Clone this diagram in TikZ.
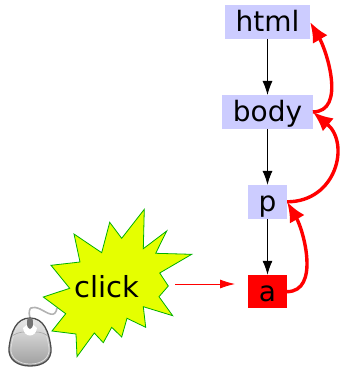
\documentclass[tikz,border=0pt]{standalone}
\usepackage{fontspec}
\setmainfont{DejaVu Sans}
\usepackage{tikz}
\usetikzlibrary{positioning,arrows.meta}
\definecolor{boxblue}{HTML}{CCCCFF}
\definecolor{staryellow}{HTML}{E5FF00}
\definecolor{stargreen}{HTML}{00B000}
\tikzset{tag node/.style={fill=boxblue,inner xsep=10.5pt,inner ysep=0.5pt,text height=26pt,text depth=6.5pt,font=\fontsize{28}{28}\selectfont},}
\tikzset{down edge/.style={-{Latex[length=14pt,width=10pt]},line width=0.9pt},}
\tikzset{bubble edge/.style={-{Latex[length=20pt,width=17pt]},red,line width=3.4pt},}

\begin{document}
\begin{tikzpicture}[x=1pt,y=-1pt]
        \useasboundingbox (0,0) rectangle (344,370);
        % Nodes
        \node[tag node] (html) at (267.5,22) {html};
        \node[tag node] [below = 56pt of html] (body) {body};
        \node[tag node] [below = 56pt of body] (p) {p};
        \node[tag node,fill=red] [below = 56pt of p] (a) {a};
        % Mouse
        \draw[gray!60,line width=1.6pt] (30,318) .. controls (27,306) and (33,306) .. (40,309)
            .. controls (48,313) and (55,319) .. (57,308);
        \path[top color=black!8,bottom color=black!38,draw=black!70,line width=1.3pt]
            (30,318) .. controls (16,318) and (11,332) .. (9,348)
            .. controls (8,360) and (18,366) .. (30,366)
            .. controls (43,366) and (52,360) .. (51,348)
            .. controls (49,332) and (44,318) .. (30,318) -- cycle;
        \draw[black!12,line width=0.7pt]
            (30,320) .. controls (18,320) and (13,333) .. (11,348)
            .. controls (10,358) and (19,364) .. (30,364)
            .. controls (42,364) and (50,358) .. (49,348)
            .. controls (47,333) and (42,320) .. (30,320) -- cycle;
        \draw[gray!70,line width=0.6pt] (12,336) .. controls (20,331) and (24,332) .. (30,332)
            .. controls (36,332) and (41,331) .. (48,336);
        \fill[white] (23,328) .. controls (24,338) and (36,338) .. (37,328) -- (30,322) -- cycle;
        \fill[black!55] (30,317) .. controls (27,317) and (27,320) .. (27,323)
            .. controls (27,331) and (33,331) .. (33,323)
            .. controls (33,320) and (33,317) .. (30,317) -- cycle;
        % Star
        \draw[stargreen,fill=staryellow,line width=0.8pt]
            (144.3,209.3) -- (121.7,238.3) -- (109.7,222.3) -- (101.7,252.7) -- (74,234)
            -- (80,262) -- (51,265.3) -- (69.7,288.3) -- (43.3,297) -- (65.7,313.7)
            -- (52,331) -- (76,334) -- (77,356.7) -- (94.3,333) -- (103.3,342.7)
            -- (111.7,327.3) -- (121.7,337) -- (127,318.3) -- (145.7,327.3) -- (143.3,306.7)
            -- (172.7,315.7) -- (159,296.7) -- (168.3,286) -- (159.7,273) -- (191.7,254.3)
            -- (155.7,253.3) -- (166.7,231) -- (143.3,248.7) -- cycle;
        \node[font=\fontsize{29}{29}\selectfont,inner sep=0pt] (click) at (106.5,287) {click};
        \coordinate (clickout) at (175,284);
        \coordinate (clickin) at (235,284);
        % Paths
        \path[draw,down edge]
        (html) edge node {} (body)
        (body) edge node {} (p)
        (p) edge node {} (a);
        \draw[-{Latex[length=15pt,width=9pt]},red,line width=0.8pt] (clickout) -- (clickin);
        \draw[bubble edge] (a.east) to[out=0,in=-60,looseness=0.95] (p.east);
        \draw[bubble edge] (p.east) to[out=0,in=-40,looseness=1.35] (body.east);
        \draw[bubble edge] (body.east) to[out=0,in=-60,looseness=0.95] (html.east);
    \end{tikzpicture}
\end{document}
